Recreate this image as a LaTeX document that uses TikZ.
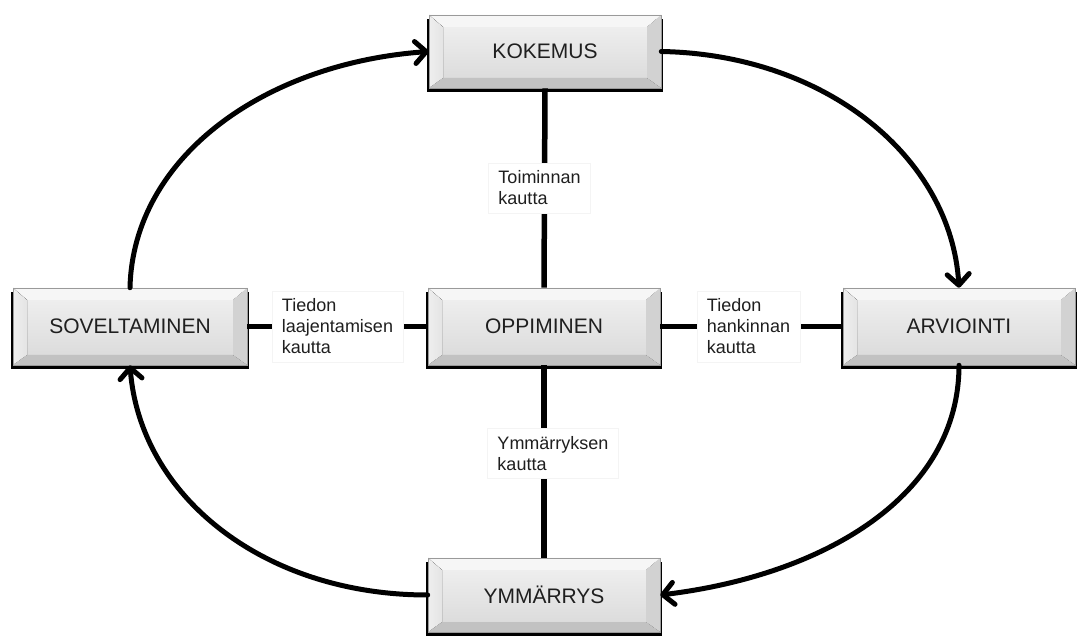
\documentclass[tikz,border=0pt]{standalone}
\usepackage{fontspec}
\setmainfont{Liberation Sans}
\usetikzlibrary{arrows.meta,calc,backgrounds}
\definecolor{bvtop}{HTML}{F6F6F6}
\definecolor{bvleft}{HTML}{E4E4E4}
\definecolor{bvright}{HTML}{D2D2D2}
\definecolor{bvbot}{HTML}{C2C2C2}
\definecolor{facetop}{HTML}{EEEEEE}
\definecolor{facebot}{HTML}{DCDCDC}
\definecolor{bvedge}{HTML}{9A9A9A}
\definecolor{lbledge}{HTML}{F4F4F4}
\tikzset{
 box/.style={minimum width=232pt, minimum height=76pt, inner sep=0pt, draw=bvedge, line width=0.6pt, text=black!88,
   font=\fontsize{21}{24}\selectfont,
   path picture={
     \coordinate (pa) at (path picture bounding box.south west);
     \coordinate (pb) at (path picture bounding box.north east);
     \coordinate (pc) at (pa|-pb);
     \coordinate (pd) at (pb|-pa);
     \coordinate (ia) at ($(pa)+(14pt,10pt)$);
     \coordinate (ib) at ($(pb)+(-14pt,-12pt)$);
     \coordinate (ic) at (ia|-ib);
     \coordinate (id) at (ib|-ia);
     \fill[top color=facetop, bottom color=facebot] (ia) rectangle (ib);
     \fill[bvtop] (pc) -- (pb) -- (ib) -- (ic) -- cycle;
     \fill[left color=bvleft!60!white, right color=bvleft] (pa) -- (pc) -- (ic) -- (ia) -- cycle;
     \fill[bvright] (pd) -- (pb) -- (ib) -- (id) -- cycle;
     \fill[bvbot] (pa) -- (pd) -- (id) -- (ia) -- cycle;
   }},
 conn/.style={line width=5.5pt},
 cyc/.style={line width=5pt, line cap=round,
   -{Straight Barb[length=11pt,width=22pt,line cap=round,line join=round]}},
 lbl/.style={fill=white, draw=lbledge, line width=0.5pt, align=left, text=black!88,
   font=\fontsize{18}{21}\selectfont, inner xsep=10pt, inner ysep=8pt}
}
\begin{document}
\begin{tikzpicture}[x=1pt,y=1pt]
\useasboundingbox (0,0) rectangle (1077,635);
\node[box, minimum height=73pt] (kok) at (545,583.5) {KOKEMUS};
\node[box, minimum width=234pt, minimum height=77pt] (sov) at (130,308.5) {SOVELTAMINEN};
\node[box, minimum height=77pt] (opp) at (544,308.5) {OPPIMINEN};
\node[box, minimum height=77pt] (arv) at (959,308.5) {ARVIOINTI};
\node[box, minimum height=74pt] (ymm) at (544,40) {YMMÄRRYS};
\begin{scope}[on background layer]
\fill[white] (0,0) rectangle (1077,635);
\foreach \n in {kok,sov,opp,arv,ymm}
  \fill[black] ([shift={(-2pt,-4pt)}]\n.south west) rectangle ([shift={(2pt,-4pt)}]\n.north east);
\end{scope}
\draw[conn] (kok.south) -- (opp.north) node[lbl, midway, xshift=-5pt] {Toiminnan\\kautta};
\draw[conn] (sov.east) -- (opp.west) node[lbl, midway] {Tiedon\\laajentamisen\\kautta};
\draw[conn] (opp.east) -- (arv.west) node[lbl, midway, xshift=-3pt] {Tiedon\\hankinnan\\kautta};
\draw[conn] (opp.south) -- (ymm.north) node[lbl, midway, xshift=9pt, yshift=8pt] {Ymmärryksen\\kautta};
\draw[cyc] (kok.east) .. controls +(165,-3) and +(-8,130) .. (arv.north);
\draw[cyc] (arv.south) .. controls +(0,-130) and +(165,20) .. (ymm.east);
\draw[cyc] (ymm.west) .. controls +(-165,0) and +(10,-130) .. (sov.south);
\draw[cyc] (sov.north) .. controls +(3,130) and +(-165,-12) .. (kok.west);
\end{tikzpicture}
\end{document}
